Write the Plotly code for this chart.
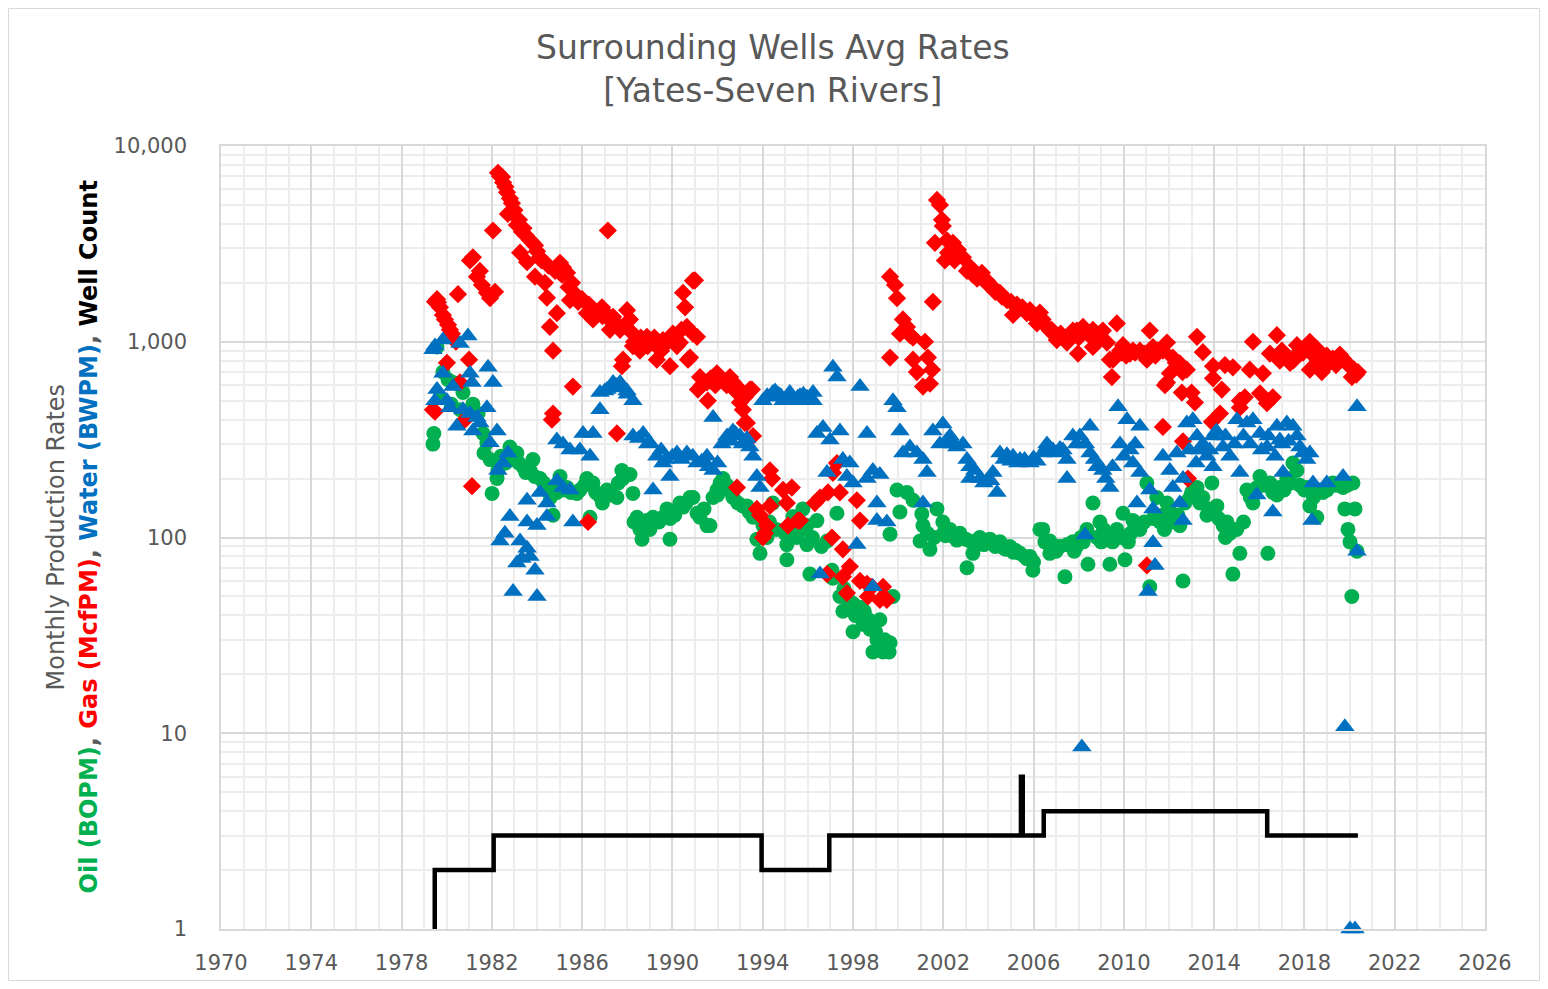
import plotly.graph_objects as go

# ---- data (year, value) ----
oil_obs = [
(1979.39,300),(1979.43,340),(1979.57,940),(1979.70,520),(1979.83,700),(1980.06,640),(1980.20,480),(1980.28,620),(1980.45,610),(1980.60,450),(1980.72,550),(1981.16,480),(1981.39,430),(1981.61,340),(1981.65,270),(1981.78,305),(1981.92,250),(1982.01,168),(1982.23,200),(1982.27,220),(1982.80,290),(1983.11,270),(1983.38,230),(1983.69,220),(1983.82,250),(1984.13,200),(1984.57,180),(1984.71,130),(1984.88,170),(1985.02,205),(1985.33,180),(1985.77,168),(1986.21,200),(1986.35,127),(1986.48,190),(1986.79,162),
(1982.40,260),(1982.60,240),(1983.00,250),(1983.20,240),(1983.50,215),(1983.90,205),(1984.30,190),(1984.60,160),(1984.90,185),(1985.20,175),(1985.50,170),(1985.90,175),(1986.10,185),(1986.60,170),(1986.90,150),(1987.30,165),(1987.60,190),
(1987.10,175),(1987.54,160),(1987.76,220),(1987.81,200),(1988.12,210),(1988.25,168),(1988.43,127),(1988.56,110),(1988.65,98),(1988.87,122),(1989.14,127),(1989.58,127),(1989.76,140),(1989.89,98),(1990.33,150),(1990.47,143),(1990.78,160),(1990.91,160),(1991.09,133),(1991.22,127),(1991.53,115),(1991.66,115),(1991.97,175),(1992.11,190),(1992.24,200),(1992.42,185),(1992.68,160),(1993.12,145),(1993.30,145),(1993.57,133),(1993.57,127),(1993.74,98),(1993.88,83),(1994.01,115),(1994.19,100),(1994.45,150),(1994.99,105),(1995.07,92),(1995.07,77),(1995.34,128),(1995.65,120),(1995.78,140),(1995.96,115),(1995.96,92),(1996.09,65),(1996.40,122),(1996.85,96),
(1988.30,120),(1988.80,115),(1989.00,110),(1989.40,120),(1989.90,125),(1990.10,130),(1990.60,150),(1991.40,140),(1991.80,160),(1992.00,165),(1992.50,175),(1992.90,150),(1993.40,135),(1994.30,120),(1994.60,110),(1995.20,115),(1995.50,100),(1995.80,110),(1996.20,100),(1996.60,90),
(1997.07,68),(1997.11,62),(1997.29,133),(1997.42,50),(1997.55,42),(1998.00,46),(1998.00,33),(1998.31,44),(1998.44,36),(1998.75,34),(1998.88,26),(1999.06,30),(1999.19,38),(1999.33,26),(1999.64,29),(1999.64,104),(1999.77,50),(1999.95,175),(2000.08,135),(2000.39,170),(2000.66,155),(2000.97,96),(2001.05,132),(2001.10,115),(2001.41,87),(2001.72,140),(2001.98,120),(2002.00,105),(2002.29,110),(2002.50,100),(2002.74,105),(2003.00,98),(2003.05,70),(2003.18,96),(2003.31,83),(2003.40,95),(2003.62,100),(2003.80,92),(2004.07,98),(2004.30,90),(2004.51,95),(2004.70,88),(2004.95,90),(2005.20,86),(2005.40,83),(2005.60,80),(2005.84,80),(2005.97,68),(2006.00,75),
(1997.60,55),(1997.80,48),(1998.10,40),(1998.50,42),(1998.70,38),(1999.00,33),(1999.40,30),(1999.60,26),(2001.30,105),(2001.60,100),(2002.10,102),(2002.60,97),(2003.50,92),(2004.20,94),(2004.80,87),(2005.10,84),(2005.70,78),
(2006.28,110),(2006.41,110),(2006.72,96),(2006.72,83),(2007.00,85),(2007.03,90),(2007.17,90),(2007.39,63),(2007.74,95),(2007.90,90),(2008.10,100),(2008.36,110),(2008.41,73),(2008.63,150),(2008.94,120),(2009.00,95),(2009.25,100),(2009.38,73),(2009.69,110),(2009.96,133),(2010.05,77),(2010.20,95),(2010.40,122),(2010.71,110),(2011.02,190),(2011.15,56),(2011.46,160),(2011.60,120),(2011.80,110),(2011.91,150),(2012.20,120),(2012.48,115),(2012.62,60),(2012.93,160),(2013.24,180),(2013.37,150),(2013.68,130),(2013.90,190),(2014.12,145),(2014.50,100),(2014.57,120),(2014.83,110),(2014.83,65),(2015.14,83),(2015.45,175),(2015.72,150),(2016.03,205),(2016.38,83),(2016.47,190),(2016.78,165),(2017.22,200),(2017.49,240),(2017.67,220),(2018.11,180),(2018.24,145),(2018.55,127),(2018.82,170),(2019.26,190),(2019.71,180),(2019.79,140),(2019.93,110),(2020.02,95),(2020.10,50),(2020.15,190),(2020.24,140),(2020.33,85),
(2006.50,95),(2006.90,88),(2007.50,92),(2007.80,85),(2008.20,95),(2008.80,100),(2009.10,110),(2009.50,95),(2009.90,100),(2010.30,105),(2010.60,115),(2010.90,120),(2011.30,125),(2011.70,130),(2012.00,140),(2012.40,130),(2012.70,150),(2013.00,170),(2013.50,160),(2013.80,140),(2014.20,125),(2014.40,115),(2014.70,105),(2015.00,110),(2015.30,120),(2015.60,160),(2015.90,180),(2016.20,185),(2016.60,170),(2016.90,180),(2017.10,175),(2017.40,190),(2017.80,185),(2018.00,175),(2018.40,160),(2018.70,175),(2019.00,175),(2019.40,185),(2019.60,185),(2019.90,185)]

gas_obs = [
(1979.39,450),(1979.48,440),(1979.48,1600),(1979.57,1650),(1979.61,1590),(1979.70,1500),(1979.83,1370),(1979.92,1300),(1980.06,1220),(1980.14,1150),(1980.23,1100),(1980.41,1000),(1980.50,1750),(1980.01,780),(1980.99,810),(1980.59,620),(1980.81,400),(1981.12,183),
(1981.03,2600),(1981.16,2700),(1981.34,2150),(1981.47,2300),(1981.56,1950),(1981.78,1780),(1981.92,1670),(1982.05,3700),(1982.14,1800),(1982.27,7300),(1982.36,7000),(1982.45,6950),(1982.67,5800),(1982.71,4500),(1982.89,5100),(1983.11,3950),(1983.25,2850),(1983.33,3650),(1983.56,2550),(1983.69,3300),(1983.91,3100),(1983.91,2150),(1984.13,2700),(1984.35,2000),(1984.44,1680),(1984.57,1190),(1984.71,900),(1984.88,1400),(1985.02,2530),(1985.15,2400),(1985.33,2250),(1985.46,1630),(1985.55,2000),(1985.82,1600),(1986.21,1400),(1986.48,1300),(1986.48,1450),(1986.88,1500),(1986.92,1450),(1987.14,3700),(1985.59,590),(1984.66,400),(1984.71,430),(1986.26,120),
(1982.50,6500),(1982.60,6200),(1982.80,5400),(1983.00,4700),(1983.20,4200),(1983.40,3800),(1983.50,3500),(1983.80,3200),(1984.00,2900),(1984.20,2600),(1984.50,2450),(1984.80,2300),(1985.10,2200),(1985.40,1900),(1985.70,1750),(1986.00,1650),(1986.30,1550),(1986.60,1400),(1986.90,1350),(1987.20,1300),(1987.50,1250),(1987.90,1200),(1988.30,1000),(1988.60,1050),(1988.90,950),(1989.20,1050),(1989.50,900),(1989.80,1000),(1990.20,950),(1990.40,1150),
(1987.23,1150),(1987.37,1340),(1987.68,1150),(1987.76,750),(1987.81,810),(1987.99,1450),(1988.12,1300),(1988.25,1100),(1988.25,950),(1988.56,900),(1988.87,1060),(1989.14,990),(1989.31,810),(1989.58,1020),(1989.89,750),(1990.02,1100),(1990.33,990),(1990.47,1780),(1990.56,1500),(1990.64,1190),(1990.69,810),(1990.78,830),(1990.91,2050),(1990.91,1100),(1991.00,2060),(1991.09,1060),(1987.54,340),
(1991.13,570),(1991.22,660),(1991.53,620),(1991.57,500),(1991.97,690),(1992.55,660),(1992.86,590),(1992.86,550),(1992.99,490),(1993.12,450),(1993.21,385),(1993.30,385),(1993.43,570),(1993.52,570),(1993.57,330),(1992.86,180),
(1991.30,600),(1991.70,650),(1991.90,600),(1992.20,640),(1992.40,600),(1992.70,620),(1993.00,560),(1993.20,520),
(1993.74,140),(1993.88,130),(1994.01,100),(1994.10,105),(1994.19,115),(1994.32,220),(1994.32,145),(1994.41,200),(1994.90,175),(1995.07,150),(1995.12,115),(1995.29,180),(1995.56,122),(1995.65,122),
(1996.31,150),(1996.54,160),(1996.85,65),(1996.89,170),(1997.07,100),(1997.11,214),(1997.29,240),(1997.42,170),(1997.55,87),(1997.55,63),(1997.73,52),(1997.86,71),(1998.17,155),(1998.31,122),(1998.31,60),(1998.62,58),(1998.66,50),(1998.84,56),(1999.19,48),(1999.33,56),(1999.50,48),
(1999.64,2150),(1999.64,830),(1999.86,1950),(1999.95,1670),(2000.08,1100),(2000.21,1300),(2000.39,1190),(2000.52,1080),(2000.66,1050),(2000.66,810),(2000.83,700),(2001.10,590),(2001.19,1000),(2001.32,830),(2001.41,610),(2001.50,720),(2001.54,1600),
(2001.63,3200),(2001.72,5300),(2001.85,5000),(2001.94,4200),(2001.98,3900),(2002.07,2600),(2002.16,3300),(2002.21,2850),(2002.43,3200),(2002.50,2600),(2002.65,2950),(2002.87,2700),(2003.05,2300),(2003.20,2400),(2003.31,2200),(2003.50,2100),(2003.71,2250),(2003.93,2050),(2004.00,1950),(2004.20,1900),(2004.30,1800),(2004.51,1780),(2004.60,1700),(2004.82,1630),(2005.00,1600),(2005.09,1370),(2005.26,1550),(2005.50,1500),(2005.70,1400),(2005.84,1450),(2006.00,1350),(2006.15,1240),(2006.28,1410),(2006.40,1300),(2006.59,1190),(2006.72,1140),(2006.80,1150),(2007.03,1020),(2007.17,1060),(2007.20,1100),
(2007.48,990),(2007.74,1140),(2007.92,1140),(2007.97,870),(2008.19,1190),(2008.63,1150),(2008.63,940),(2008.94,1100),(2009.07,1140),(2009.25,990),(2009.38,810),(2009.47,660),(2009.52,810),(2009.69,1240),(2009.83,900),(2009.96,960),(2010.27,870),(2010.40,900),(2010.71,900),(2011.02,72),(2011.02,810),(2011.15,1140),(2011.15,900),(2011.29,940),(2011.60,900),(2011.73,900),(2011.73,367),(2011.82,600),(2011.91,990),(2011.91,620),(2012.04,690),(2012.17,830),(2012.48,775),(2012.57,550),(2012.62,310),(2012.79,720),(2012.84,200),(2013.15,490),(2013.24,1060),(2013.50,885),(2013.90,390),(2013.95,750),(2013.95,650),(2014.26,430),(2014.34,570),(2014.48,760),(2014.83,740),(2015.14,500),(2015.14,460),(2015.36,520),(2015.58,720),(2015.72,1000),(2016.03,545),(2016.16,690),(2016.34,485),(2016.47,870),(2016.60,520),(2016.78,1080),(2016.91,800),(2017.36,780),(2017.67,960),(2017.94,880),(2018.24,1000),(2018.24,720),(2018.55,920),(2018.77,700),(2018.99,850),(2019.26,820),(2019.57,860),(2019.88,780),(2020.10,660),(2020.20,720),(2020.30,680),(2020.37,700),
(2007.60,1050),(2008.00,1050),(2008.40,1100),(2008.80,1000),(2009.00,1050),(2009.90,880),(2010.10,850),(2010.50,880),(2010.90,870),(2011.40,850),(2011.50,900),(2012.30,780),(2012.60,700),(2013.00,550),
(2017.00,900),(2017.20,850),(2017.50,800),(2017.80,900),(2018.10,950),(2018.40,850),(2018.60,800),(2019.10,780),(2019.40,760),(2019.70,820),(2020.00,750)]

water_obs = [
(1979.39,910),(1979.48,950),(1979.48,500),(1979.57,570),(1979.83,1020),(1979.83,690),(1980.01,500),(1980.14,460),(1980.28,590),(1980.45,370),(1980.59,980),(1980.72,450),(1980.94,1070),(1981.03,690),(1981.03,430),(1981.12,620),(1981.16,350),(1981.34,410),(1981.47,385),(1981.78,460),(1981.83,740),(1981.92,305),(1982.05,620),(1982.23,350),(1982.27,220),(1982.36,96),(1982.49,240),(1982.58,105),(1982.71,270),(1982.80,128),(1982.94,53),(1983.11,74),(1983.25,96),(1983.33,78),(1983.56,120),(1983.56,88),(1983.56,155),(1983.69,80),(1983.91,68),(1984.00,115),(1984.00,50),(1984.13,170),(1984.44,150),(1984.44,128),(1984.88,195),(1984.88,315),(1985.15,180),(1985.15,300),(1985.46,175),(1985.46,280),(1985.59,120),(1985.90,280),(1986.04,340),(1986.35,260),(1986.48,340),(1986.79,450),(1986.79,550),(1987.00,560),(1987.10,570),(1987.37,620),(1987.37,590),(1987.50,600),(1987.68,620),(1987.80,580),(1987.99,560),(1988.00,540),(1988.25,500),
(1988.25,330),(1988.70,340),(1989.00,305),(1989.14,175),(1989.31,260),(1989.58,240),(1989.89,205),(1990.20,270),(1990.64,270),(1991.09,240),(1991.53,260),(1991.80,220),(1991.80,410),(1992.42,330),(1992.68,350),(1992.99,330),(1993.43,290),(1993.57,260),(1993.74,205),(1993.88,180),
(1988.50,320),(1988.90,300),(1989.50,280),(1989.70,250),(1990.00,260),(1990.40,250),(1990.90,260),(1991.30,245),(1991.60,230),(1992.00,240),(1992.20,300),(1992.60,310),(1992.80,340),(1993.10,300),(1993.30,320),
(1994.01,500),(1994.20,530),(1994.45,550),(1994.70,540),(1994.90,500),(1995.07,520),(1995.30,510),(1995.65,530),(1995.90,500),(1995.96,520),(1996.10,520),(1996.23,500),(1996.23,550),(1996.40,340),(1996.54,65),(1996.67,365),(1996.85,215),(1996.98,315),(1997.11,740),(1997.29,660),(1997.42,350),(1997.55,250),(1997.73,205),(1997.86,240),(1998.00,190),(1998.17,92),(1998.31,590),(1998.62,340),(1998.62,200),(1998.88,220),(1998.88,56),(1999.06,150),(1999.06,122),(1999.19,210),(1999.50,120),(1999.77,500),(1999.95,460),(2000.08,350),(2000.21,270),(2000.52,290),(2000.83,270),(2001.10,250),(2001.10,150),(2001.28,215),(2001.54,350),(2001.85,300),(2001.98,380),(2002.16,315),(2002.43,300),(2002.87,300),(2003.05,250),(2003.18,230),(2003.18,200),(2003.62,200),(2003.93,195),(2004.20,215),(2004.38,170),(2004.51,270),(2004.70,250),(2004.82,265),(2005.00,245),(2005.09,260),(2005.30,240),(2005.40,250),(2005.60,250),(2005.84,240),(2006.00,255),(2006.15,245),(2006.40,270),(2006.59,290),(2006.59,300),(2006.86,280),(2007.17,285),(2007.48,250),(2007.48,200),(2007.74,330),(2008.05,330),(2008.14,8.5),(2008.28,103),(2008.50,370),(2008.50,270),(2008.81,230),(2009.07,220),(2009.38,180),(2009.74,465),(2009.83,300),(2010.14,400),(2010.27,280),(2010.40,240),(2010.58,150),(2010.71,370),(2010.71,215),(2011.07,53),(2011.15,175),(2011.29,140),(2011.29,94),(2011.38,72),(2011.73,260),(2012.04,220),(2012.17,180),(2012.35,270),(2012.48,150),(2012.62,200),(2012.62,122),(2012.79,385),(2013.06,400),(2013.24,330),(2013.37,280),(2013.68,260),(2013.95,330),(2013.95,230),(2014.39,290),(2014.70,260),(2015.01,400),(2015.14,215),(2015.45,385),(2015.72,400),(2015.89,165),(2016.03,340),(2016.34,290),(2016.60,135),(2016.78,370),(2016.91,315),(2017.05,215),(2017.22,385),(2017.49,370),(2017.67,330),(2017.94,270),(2018.24,270),(2018.33,122),(2018.38,190),(2018.99,190),(2019.71,205),(2019.79,10.8),(2020.02,1.0),(2020.24,1.0),(2020.33,465),(2020.33,85),
(1994.30,520),(1994.55,560),(1994.80,530),(1995.20,550),(1995.45,500),(1995.55,520),(1995.80,540),(1996.00,510),
(2002.30,330),(2002.60,290),(2003.40,220),(2003.80,190),(2004.10,195),
(2006.70,290),(2007.00,270),(2007.30,280),(2007.90,300),(2008.30,300),(2008.70,250),(2009.20,200),(2009.50,230),(2010.00,260),(2010.50,300),
(2012.90,280),(2013.20,240),(2013.50,300),(2013.80,280),(2014.10,350),(2014.50,330),(2014.90,300),(2015.30,330),(2015.60,300),(2016.10,280),(2016.40,330),(2016.70,260),(2017.00,300),(2017.30,310),(2017.80,290),(2018.10,250)]

well_year = [1979.39, 1979.47, 1982.08, 1993.95, 1996.95, 2005.44, 2005.52, 2006.45, 2016.35, 2020.37]
well_count = [1, 2, 3, 2, 3, 6, 3, 4, 3, 3]

x_ticks = list(range(1970, 2027, 4))

GREEN, RED, BLUE, GRAY = "#00B050", "#FF0000", "#0070C0", "#595959"
FONT = "DejaVu Sans"

fig = go.Figure()
fig.add_trace(go.Scatter(x=[p[0] for p in oil_obs], y=[p[1] for p in oil_obs], mode="markers",
                         marker=dict(symbol="circle", size=15, color=GREEN, line=dict(width=0)),
                         name="Oil (BOPM)"))
fig.add_trace(go.Scatter(x=[p[0] for p in gas_obs], y=[p[1] for p in gas_obs], mode="markers",
                         marker=dict(symbol="diamond", size=14, color=RED, line=dict(width=0)),
                         name="Gas (McfPM)"))
fig.add_trace(go.Scatter(x=[p[0] for p in water_obs], y=[p[1] for p in water_obs], mode="markers",
                         marker=dict(symbol="triangle-up", size=17, color=BLUE, line=dict(width=0)),
                         name="Water (BWPM)", cliponaxis=False))
fig.add_trace(go.Scatter(x=well_year, y=well_count, mode="lines", line=dict(color="black", width=4.5, shape="hv"),
                         name="Well Count"))

# page body has an 8px margin, so the figure is sized/offset to land the plot at the reference spot
fig.update_layout(
    width=1532, height=973,
    margin=dict(l=213, r=55, t=138, b=52, autoexpand=False),
    paper_bgcolor="white", plot_bgcolor="white",
    showlegend=False,
    font=dict(family=FONT, color=GRAY),
)
fig.update_xaxes(
    range=[1970, 2026], tickmode="array", tickvals=x_ticks, ticktext=[str(t) for t in x_ticks],
    showgrid=True, gridcolor="#D9D9D9", gridwidth=1.5,
    minor=dict(dtick=1, tick0=1970, showgrid=True, gridcolor="#EDEDED", gridwidth=1.5),
    showline=True, linecolor="#D9D9D9", linewidth=1.5, mirror=True,
    ticks="", tickfont=dict(size=21, color=GRAY, family=FONT), ticklabelstandoff=14,
    zeroline=False, automargin=False,
)
fig.update_yaxes(
    type="log", range=[0, 4], tickmode="linear", tick0=0, dtick=1, tickformat=",",
    showgrid=True, gridcolor="#D9D9D9", gridwidth=1.5,
    minor=dict(dtick="D1", showgrid=True, gridcolor="#EDEDED", gridwidth=1.5),
    showline=True, linecolor="#D9D9D9", linewidth=1.5, mirror=True,
    ticks="", tickfont=dict(size=21, color=GRAY, family=FONT), ticklabelstandoff=28,
    zeroline=False, automargin=False,
)

ytitle_1 = "Monthly Production Rates"
ytitle_2 = (f"<b><span style='color:{GREEN}'>Oil (BOPM)</span>, "
            f"<span style='color:{RED}'>Gas (McfPM)</span>, "
            f"<span style='color:{BLUE}'>Water (BWPM)</span>, "
            f"<span style='color:black'>Well Count</span></b>")

fig.add_annotation(text=ytitle_1, xref="paper", yref="paper", x=(55 - 221) / 1264, y=0.5,
                   textangle=-90, showarrow=False, xanchor="center", yanchor="middle",
                   font=dict(size=24, color=GRAY, family=FONT))
fig.add_annotation(text=ytitle_2, xref="paper", yref="paper", x=(88 - 221) / 1264, y=0.5,
                   textangle=-90, showarrow=False, xanchor="center", yanchor="middle",
                   font=dict(size=24, color=GRAY, family=FONT))
fig.add_annotation(text="Surrounding Wells Avg Rates<br>[Yates-Seven Rivers]", xref="paper", yref="paper",
                   x=(773 - 221) / 1264, y=(929 - 69) / 783, showarrow=False,
                   xanchor="center", yanchor="middle", font=dict(size=33, color=GRAY, family=FONT))

# chart-area frame
fig.add_shape(type="rect", xref="paper", yref="paper",
              x0=(0.5 - 213) / 1264, x1=(1531.5 - 213) / 1264, y0=(921 - 972.5) / 783, y1=(921 - 0.5) / 783,
              line=dict(color="#D9D9D9", width=1), fillcolor="rgba(0,0,0,0)", layer="below")

fig.write_html("out.html")
